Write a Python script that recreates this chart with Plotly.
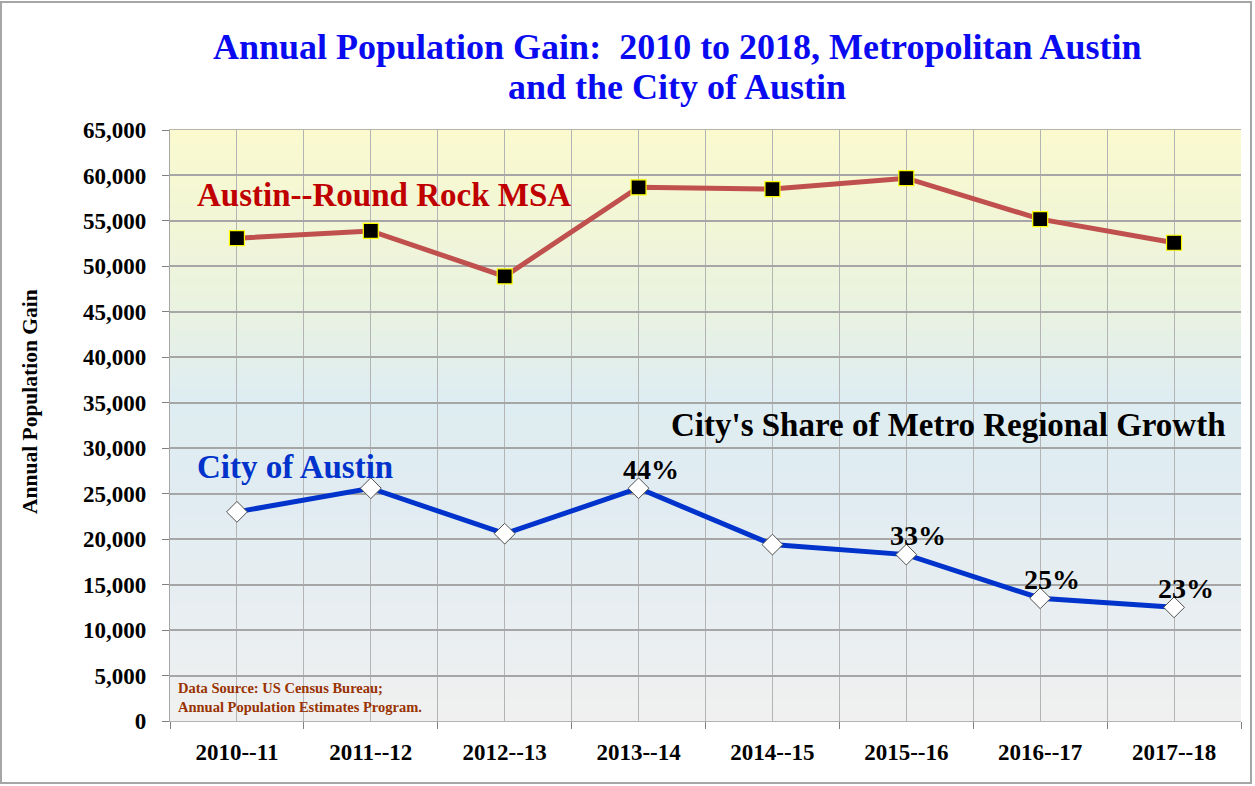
import plotly.graph_objects as go

categories = ["2010--11", "2011--12", "2012--13", "2013--14", "2014--15", "2015--16", "2016--17", "2017--18"]
msa_gain = [53100, 53900, 48900, 58700, 58500, 59700, 55200, 52600]
city_gain = [23000, 25600, 20600, 25600, 19400, 18300, 13500, 12500]
share_labels = ["", "", "", "44%", "", "33%", "25%", "23%"]
y_ticks = list(range(0, 65001, 5000))
title_lines = ["Annual Population Gain:  2010 to 2018, Metropolitan Austin", "and the City of Austin"]

W, H = 1255, 786
ML, MR, MT, MB = 170, 14, 130, 65
PW, PH = W - ML - MR, H - MT - MB

x = list(range(len(categories)))

fig = go.Figure()

# gradient background (styling only)
stops = [(0.0, (240, 240, 240)), (0.38, (224, 236, 242)), (0.55, (222, 237, 241)),
         (0.70, (234, 242, 224)), (0.85, (242, 246, 214)), (1.0, (250, 250, 206))]


def col_at(t):
    for (t0, c0), (t1, c1) in zip(stops[:-1], stops[1:]):
        if t0 <= t <= t1:
            f = (t - t0) / (t1 - t0)
            return "rgb(%d,%d,%d)" % tuple(round(a + (b - a) * f) for a, b in zip(c0, c1))
    return "rgb(%d,%d,%d)" % stops[-1][1]


N = 80
shapes = []
for i in range(N):
    t0, t1 = i / N, (i + 1) / N
    shapes.append(dict(type="rect", xref="paper", yref="paper", x0=0, x1=1, y0=t0, y1=t1 + 0.002,
                       fillcolor=col_at((t0 + t1) / 2), line=dict(width=0), layer="below"))
# outer frame
shapes.append(dict(type="rect", xref="paper", yref="paper",
                   x0=(1 - ML) / PW, x1=(W - 4 - ML) / PW,
                   y0=(H - MB - (H - 3)) / PH, y1=(H - MB - 2) / PH,
                   line=dict(color="#A6A6A6", width=2), fillcolor="rgba(0,0,0,0)", layer="below"))

fig.add_trace(go.Scatter(
    x=x, y=msa_gain, mode="lines+markers", name="Austin--Round Rock MSA",
    line=dict(color="#C0504D", width=5),
    marker=dict(symbol="square", size=15, color="black", line=dict(color="#FFFF00", width=1.2)),
))
fig.add_trace(go.Scatter(
    x=x, y=city_gain, mode="lines+markers", name="City of Austin",
    line=dict(color="#0033CC", width=5),
    marker=dict(symbol="diamond", size=16, color="white", line=dict(color="#505050", width=1)),
))

title_x = (677 - ML) / PW
annotations = [
    dict(text="<b>%s</b>" % title_lines[0], x=title_x, y=(H - MB - 47) / PH, xref="paper", yref="paper",
         xanchor="center", yanchor="middle", showarrow=False,
         font=dict(family="Liberation Serif", size=36, color="#0A0AF0")),
    dict(text="<b>%s</b>" % title_lines[1], x=title_x, y=(H - MB - 87) / PH, xref="paper", yref="paper",
         xanchor="center", yanchor="middle", showarrow=False,
         font=dict(family="Liberation Serif", size=36, color="#0A0AF0")),
    dict(text="<b>Austin--Round Rock MSA</b>", x=0.0233, y=57850, xref="paper", yref="y", xanchor="left",
         yanchor="middle", showarrow=False,
         font=dict(family="Liberation Serif", size=33, color="#C00000")),
    dict(text="<b>City of Austin</b>", x=0.0233, y=27940, xref="paper", yref="y", xanchor="left",
         yanchor="middle", showarrow=False,
         font=dict(family="Liberation Serif", size=33, color="#0033CC")),
    dict(text="<b>City's Share of Metro Regional Growth</b>", x=0.988, y=32560, xref="paper", yref="y",
         xanchor="right", yanchor="middle", showarrow=False,
         font=dict(family="Liberation Serif", size=33, color="black")),
    dict(text="<b>Data Source: US Census Bureau;<br>Annual Population Estimates Program.</b>",
         x=0.006, y=2640, xref="paper", yref="y", xanchor="left", yanchor="middle", align="left",
         showarrow=False, font=dict(family="Liberation Serif", size=14.5, color="#993300")),
    dict(text="<b>Annual Population Gain</b>", x=-(ML - 30) / PW, y=(H - MB - 402) / PH,
         xref="paper", yref="paper",
         textangle=-90, showarrow=False, xanchor="center", yanchor="middle",
         font=dict(family="Liberation Serif", size=21.5, color="black")),
]
for i, lab in enumerate(share_labels):
    if lab:
        annotations.append(dict(text="<b>%s</b>" % lab, x=x[i], y=city_gain[i], xref="x", yref="y",
                                xshift=12, yshift=19, showarrow=False, xanchor="center", yanchor="middle",
                                font=dict(family="Liberation Serif", size=28, color="black")))

fig.update_layout(
    width=W, height=H,
    margin=dict(l=ML, r=MR, t=MT, b=MB),
    paper_bgcolor="white", plot_bgcolor="rgba(0,0,0,0)",
    showlegend=False,
    shapes=shapes,
    annotations=annotations,
    font=dict(family="Liberation Serif"),
)

fig.update_xaxes(
    range=[-0.5, len(categories) - 0.5], tickvals=x, ticktext=categories,
    tickfont=dict(family="Liberation Serif", size=23, color="black", weight="bold"),
    showgrid=True, gridcolor="#B4B4B4", gridwidth=1.3, ticks="", ticklabelstandoff=10,
    minor=dict(tick0=-0.5, dtick=1, ticks="outside", ticklen=7, tickcolor="#808080",
               showgrid=True, gridcolor="#B4B4B4", gridwidth=1.3),
    showline=True, linecolor="#B4B4B4", linewidth=1.3, mirror=True, zeroline=False, fixedrange=True,
)
fig.update_yaxes(
    range=[0, 65000], tickvals=y_ticks, tickformat=",d",
    tickfont=dict(family="Liberation Serif", size=23, color="black", weight="bold"),
    showgrid=True, gridcolor="#A6A6A6", gridwidth=1.5, ticks="outside", ticklen=7, tickcolor="#808080",
    showline=True, linecolor="#A6A6A6", linewidth=1.3, zeroline=False, ticklabelstandoff=11,
)

fig.write_html("out.html", config={"displayModeBar": False},
               post_script="document.body.style.margin='0';")
